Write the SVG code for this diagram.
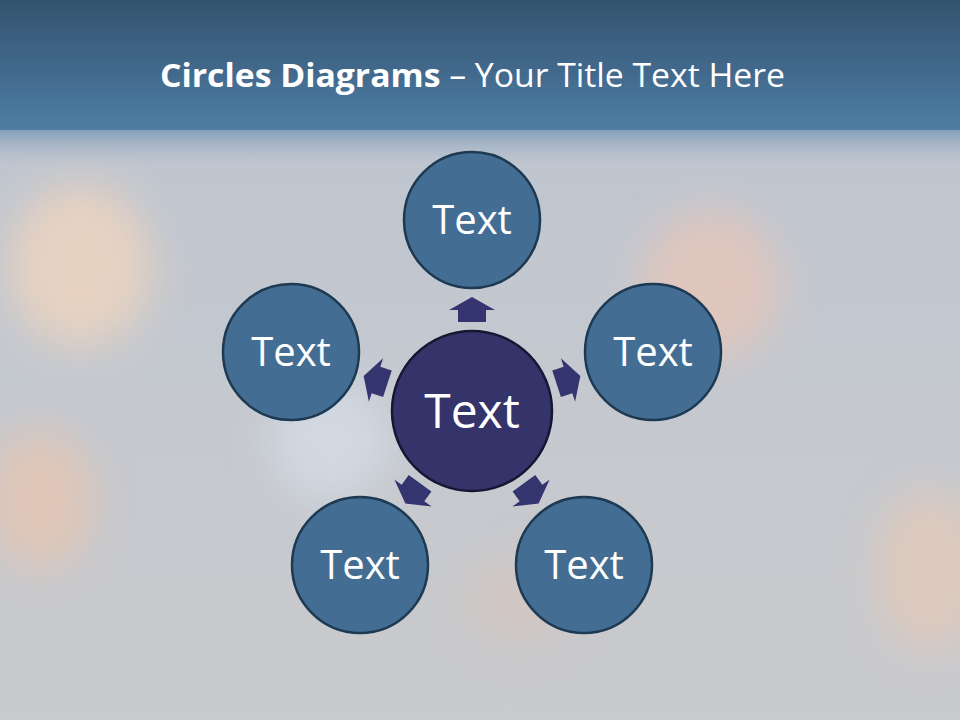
<svg xmlns="http://www.w3.org/2000/svg" width="960" height="720" viewBox="0 0 960 720">
  <defs>
    <linearGradient id="bg" x1="0" y1="0" x2="0" y2="1">
      <stop offset="0" stop-color="#bcc4cf"/>
      <stop offset="0.5" stop-color="#c4c8cf"/>
      <stop offset="1" stop-color="#c9cacd"/>
    </linearGradient>
    <linearGradient id="band" x1="0" y1="0" x2="0" y2="1">
      <stop offset="0" stop-color="#33546f"/>
      <stop offset="0.55" stop-color="#42698c"/>
      <stop offset="0.9" stop-color="#4a7aa0"/>
      <stop offset="1" stop-color="#4f7da1"/>
    </linearGradient>
    <linearGradient id="fade" x1="0" y1="0" x2="0" y2="1">
      <stop offset="0" stop-color="#7e9bb7" stop-opacity="0.9"/>
      <stop offset="1" stop-color="#bcc4cf" stop-opacity="0"/>
    </linearGradient>
    <filter id="blur" x="-50%" y="-50%" width="200%" height="200%">
      <feGaussianBlur stdDeviation="20"/>
    </filter>
    <style>
      .outer { fill: #436d93; stroke: #1e3a53; stroke-width: 2.5; }
      .center { fill: #34346a; stroke: #171733; stroke-width: 2.5; }
      .lbl { fill: #ffffff; font-family: "Open Sans", "Liberation Sans", sans-serif; text-anchor: middle; }
      .arrow { fill: #34346f; }
    </style>
    <polygon id="arr" points="0,-13 23,0 14,0 14,12 -14,12 -14,0 -23,0"/>
  </defs>

  <!-- background -->
  <rect x="0" y="0" width="960" height="720" fill="url(#bg)"/>
  <g filter="url(#blur)" opacity="0.75">
    <ellipse cx="80" cy="265" rx="72" ry="82" fill="#f3d6bd"/>
    <ellipse cx="40" cy="500" rx="55" ry="70" fill="#e8c6b0"/>
    <ellipse cx="710" cy="285" rx="70" ry="75" fill="#e9c6b8"/>
    <ellipse cx="930" cy="570" rx="55" ry="80" fill="#e5cab8"/>
    <ellipse cx="330" cy="440" rx="60" ry="60" fill="#d7dee8"/>
    <ellipse cx="520" cy="600" rx="60" ry="45" fill="#d4c6c0"/>
  </g>
  <rect x="0" y="0" width="960" height="130" fill="url(#band)"/>
  <rect x="0" y="130" width="960" height="40" fill="url(#fade)"/>

  <!-- title -->
  <text x="160" y="87" fill="#ffffff" font-family="Open Sans, Liberation Sans, sans-serif" font-size="33" textLength="625" lengthAdjust="spacingAndGlyphs"><tspan font-weight="bold">Circles Diagrams</tspan><tspan> – Your Title Text Here</tspan></text>

  <!-- connectors -->
  <g id="connectors">
    <use href="#arr" class="arrow" transform="translate(472,310)"/>
    <use href="#arr" class="arrow" transform="translate(568,380) rotate(72)"/>
    <use href="#arr" class="arrow" transform="translate(531,493) rotate(144)"/>
    <use href="#arr" class="arrow" transform="translate(413,493) rotate(216)"/>
    <use href="#arr" class="arrow" transform="translate(376,380) rotate(288)"/>
  </g>

  <g id="node-center">
    <circle class="center" cx="472" cy="411" r="80"/>
    <text class="lbl" x="472" y="428" font-size="48">Text</text>
  </g>
  <g id="node-top">
    <circle class="outer" cx="472" cy="220" r="68"/>
    <text class="lbl" x="472" y="234" font-size="40">Text</text>
  </g>
  <g id="node-right">
    <circle class="outer" cx="653" cy="352" r="68"/>
    <text class="lbl" x="653" y="366" font-size="40">Text</text>
  </g>
  <g id="node-left">
    <circle class="outer" cx="291" cy="352" r="68"/>
    <text class="lbl" x="291" y="366" font-size="40">Text</text>
  </g>
  <g id="node-bottom-right">
    <circle class="outer" cx="584" cy="565" r="68"/>
    <text class="lbl" x="584" y="579" font-size="40">Text</text>
  </g>
  <g id="node-bottom-left">
    <circle class="outer" cx="360" cy="565" r="68"/>
    <text class="lbl" x="360" y="579" font-size="40">Text</text>
  </g>
</svg>
